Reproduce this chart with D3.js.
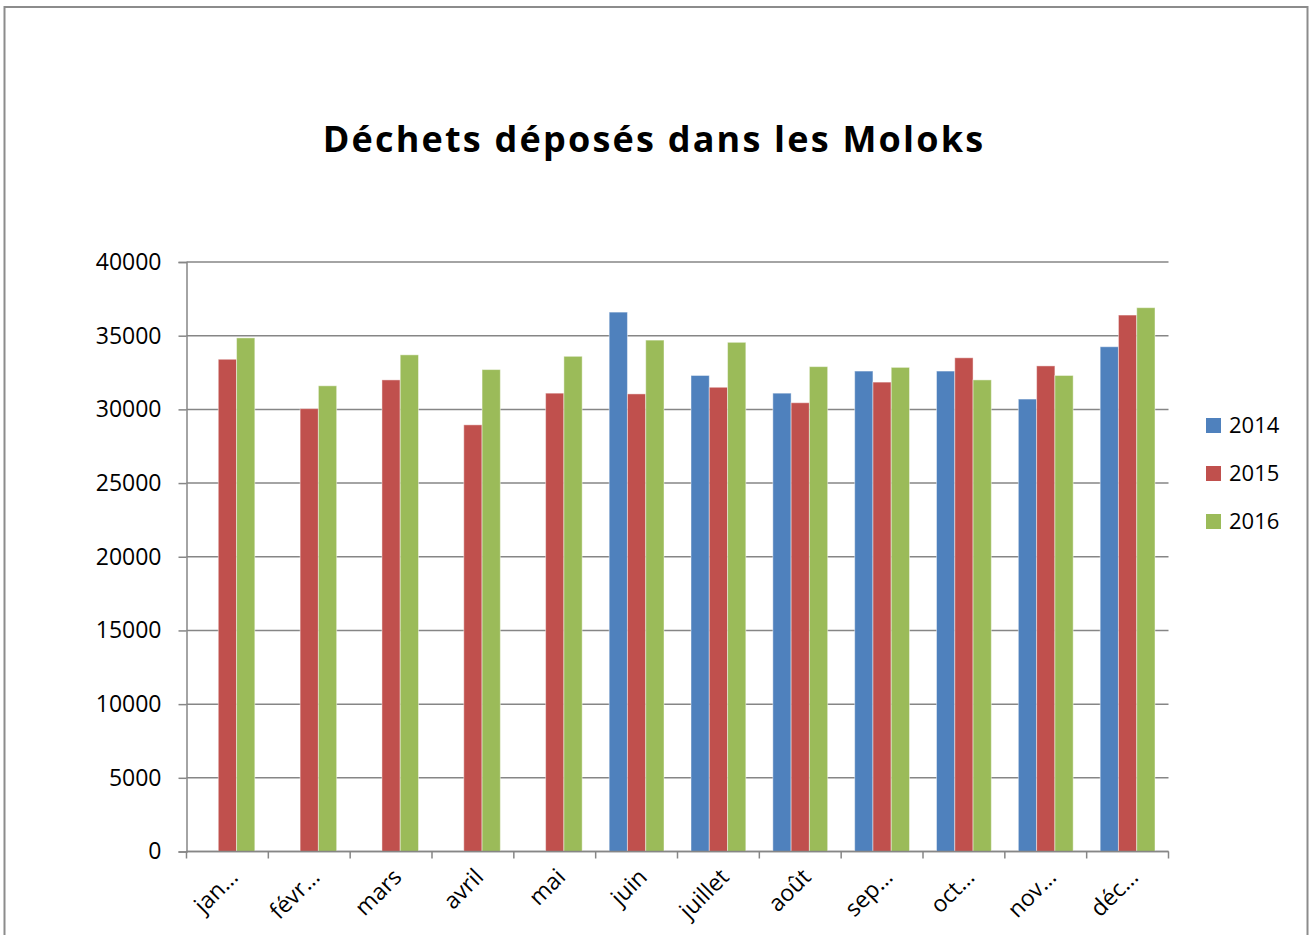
<!DOCTYPE html>
<html>
<head>
<meta charset="utf-8">
<script src="https://cdn.jsdelivr.net/npm/d3@7"></script>
<style>
    body { margin: 0; background: #fff; }
</style>
</head>
<body>
<svg id="barChart" width="1312" height="935"></svg>
<script>
// data
var months = ["jan…", "févr…", "mars", "avril", "mai", "juin", "juillet", "août", "sep…", "oct…", "nov…", "déc…"];
var series = ["2014", "2015", "2016"];
var values2014 = [null, null, null, null, null, 36600, 32300, 31100, 32600, 32600, 30700, 34250];
var values2015 = [33400, 30050, 32000, 28950, 31100, 31050, 31500, 30450, 31850, 33500, 32950, 36400];
var values2016 = [34850, 31600, 33700, 32700, 33600, 34700, 34550, 32900, 32850, 32000, 32300, 36900];
var yTicks = [0, 5000, 10000, 15000, 20000, 25000, 30000, 35000, 40000];
var colors = ["#4F81BD", "#C0504D", "#9BBB59"];

drawBar = function () {
    var svg = d3.select("#barChart");
    var font = "'Open Sans', sans-serif";

    var left = 186.5, right = 1168.5, top = 262, bottom = 851.5;

    // chart frame
    svg.append("rect")
        .attr("x", 4.5).attr("y", 7)
        .attr("width", 1303).attr("height", 940)
        .attr("fill", "none")
        .attr("stroke", "#8c8c8c")
        .attr("stroke-width", 2);

    // Title
    svg.append("text")
        .attr("x", 654)
        .attr("y", 152)
        .attr("text-anchor", "middle")
        .style("font-family", font)
        .style("font-weight", "bold")
        .style("font-size", "36px")
        .style("letter-spacing", "2.2px")
        .text("Déchets déposés dans les Moloks");

    var x0 = d3.scaleBand().domain(months).range([left, right]).padding(0);
    var bw = x0.bandwidth();
    var x1 = d3.scaleBand().domain(series).range([bw * 0.165, bw * 0.835]).padding(0);
    var y = d3.scaleLinear().domain([0, 40000]).range([bottom, top]);

    // gridlines
    svg.append("g")
        .selectAll("line")
        .data(yTicks)
        .enter()
        .append("line")
        .attr("x1", left).attr("x2", right)
        .attr("y1", function (d) { return y(d); })
        .attr("y2", function (d) { return y(d); })
        .attr("stroke", "#868686")
        .attr("stroke-width", 1.5);

    // Y axis
    var yAxis = svg.append("g")
        .attr("transform", "translate(" + left + ",0)")
        .call(d3.axisLeft(y).tickValues(yTicks).tickSize(8).tickPadding(17).tickFormat(d3.format("d")));
    yAxis.select(".domain").attr("stroke", "#868686").attr("stroke-width", 1.5);
    yAxis.selectAll(".tick line").attr("stroke", "#868686").attr("stroke-width", 1.5);
    yAxis.selectAll("text")
        .style("font-family", font)
        .style("font-size", "23px")
        .attr("fill", "#000");

    // bars
    var data = months.map(function (m, i) {
        return { month: m, vals: [values2014[i], values2015[i], values2016[i]] };
    });
    var groups = svg.append("g")
        .selectAll("g")
        .data(data)
        .enter()
        .append("g")
        .attr("transform", function (d) { return "translate(" + x0(d.month) + ",0)"; });
    groups.selectAll("rect")
        .data(function (d) {
            return series.map(function (s, j) { return { s: s, v: d.vals[j], c: colors[j] }; })
                .filter(function (e) { return e.v != null; });
        })
        .enter()
        .append("rect")
        .attr("x", function (d) { return x1(d.s); })
        .attr("y", function (d) { return y(d.v); })
        .attr("width", x1.bandwidth())
        .attr("height", function (d) { return bottom - y(d.v); })
        .attr("fill", function (d) { return d.c; })
        .attr("stroke", "rgba(255,255,255,0.45)")
        .attr("stroke-width", 1);

    // X axis
    var xTickPos = d3.range(months.length + 1).map(function (i) { return left + i * bw; });
    var xAxis = svg.append("g");
    xAxis.append("line")
        .attr("x1", left).attr("x2", right)
        .attr("y1", bottom).attr("y2", bottom)
        .attr("stroke", "#868686").attr("stroke-width", 1.5);
    xAxis.selectAll(".xt")
        .data(xTickPos)
        .enter()
        .append("line")
        .attr("x1", function (d) { return d; }).attr("x2", function (d) { return d; })
        .attr("y1", bottom).attr("y2", bottom + 7)
        .attr("stroke", "#868686").attr("stroke-width", 1.5);

    svg.append("g")
        .selectAll("text")
        .data(months)
        .enter()
        .append("text")
        .attr("text-anchor", "end")
        .attr("transform", function (d) {
            return "translate(" + (x0(d) + bw / 2 + 12) + "," + (bottom + 27) + ")rotate(-45)";
        })
        .style("font-family", font)
        .style("font-size", "23px")
        .text(function (d) { return d; });

    // legend
    var legend = svg.append("g")
        .selectAll("g")
        .data(series)
        .enter()
        .append("g")
        .attr("transform", function (d, i) { return "translate(1206," + (418 + i * 48) + ")"; });
    legend.append("rect")
        .attr("width", 15).attr("height", 15)
        .attr("fill", function (d, i) { return colors[i]; });
    legend.append("text")
        .attr("x", 23).attr("y", 15)
        .style("font-family", font)
        .style("font-size", "22px")
        .text(function (d) { return d; });
}

drawBar();
</script>
</body>
</html>
